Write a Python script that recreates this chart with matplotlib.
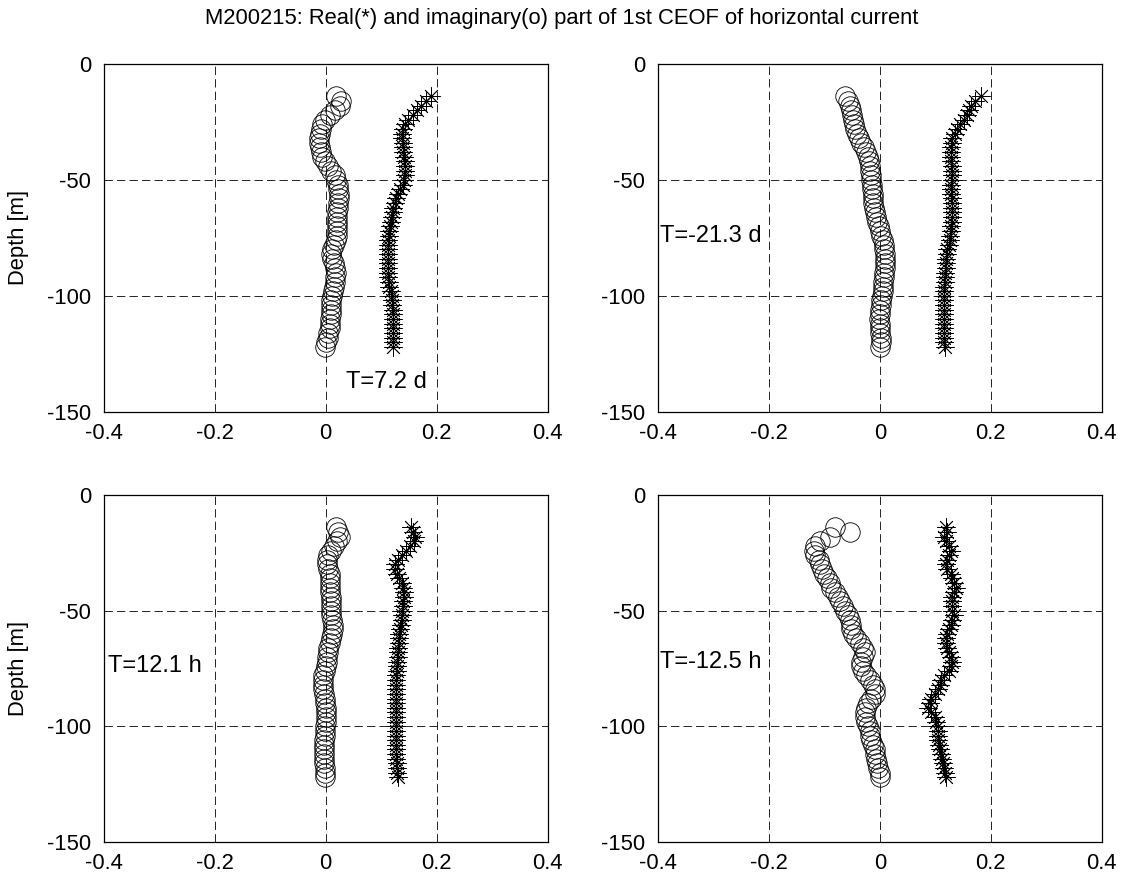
import numpy as np
import matplotlib
matplotlib.use("Agg")
import matplotlib.pyplot as plt

# bin depths of the ADCP (m), every 2 m from -14 to -122
depth = np.arange(-14, -123, -2)

# panel 1, T=7.2 d
real_1 = [0.189, 0.180, 0.171, 0.164, 0.157, 0.149, 0.143, 0.139, 0.137, 0.137,
          0.139, 0.140, 0.140, 0.142, 0.143, 0.143, 0.143, 0.143, 0.142, 0.139,
          0.134, 0.131, 0.127, 0.125, 0.122, 0.121, 0.119, 0.118, 0.116, 0.115,
          0.115, 0.113, 0.113, 0.112, 0.112, 0.112, 0.112, 0.112, 0.112, 0.113,
          0.114, 0.115, 0.118, 0.119, 0.119, 0.120, 0.121, 0.121, 0.121, 0.121,
          0.121, 0.121, 0.121, 0.121, 0.122]
imag_1 = [0.019, 0.028, 0.025, 0.016, 0.007, -0.002, -0.006, -0.009, -0.011, -0.012,
          -0.012, -0.011, -0.009, -0.006, -0.002, 0.004, 0.010, 0.016, 0.019, 0.022,
          0.023, 0.024, 0.024, 0.023, 0.022, 0.021, 0.021, 0.020, 0.020, 0.021,
          0.020, 0.018, 0.015, 0.012, 0.010, 0.011, 0.015, 0.017, 0.018, 0.017,
          0.016, 0.015, 0.014, 0.011, 0.010, 0.010, 0.010, 0.009, 0.008, 0.007,
          0.007, 0.005, 0.004, 0.001, -0.002]

# panel 2, T=-21.3 d
real_2 = [0.182, 0.171, 0.164, 0.160, 0.157, 0.151, 0.145, 0.140, 0.136, 0.131,
          0.130, 0.128, 0.128, 0.128, 0.129, 0.130, 0.130, 0.130, 0.130, 0.129,
          0.129, 0.129, 0.130, 0.130, 0.130, 0.130, 0.130, 0.130, 0.129, 0.128,
          0.127, 0.126, 0.124, 0.122, 0.121, 0.120, 0.119, 0.119, 0.118, 0.118,
          0.117, 0.116, 0.116, 0.116, 0.116, 0.116, 0.116, 0.116, 0.116, 0.116,
          0.116, 0.116, 0.116, 0.116, 0.117]
imag_2 = [-0.063, -0.057, -0.053, -0.051, -0.050, -0.048, -0.046, -0.044, -0.041, -0.037,
          -0.033, -0.029, -0.025, -0.022, -0.020, -0.018, -0.017, -0.016, -0.015, -0.014,
          -0.014, -0.013, -0.013, -0.012, -0.011, -0.009, -0.007, -0.005, -0.002, 0.001,
          0.003, 0.005, 0.007, 0.008, 0.009, 0.010, 0.010, 0.009, 0.008, 0.007,
          0.006, 0.005, 0.005, 0.004, 0.003, 0.002, 0.001, 0.000, -0.001, 0.000,
          0.001, 0.001, 0.002, 0.002, 0.001]

# panel 3, T=12.1 h
real_3 = [0.154, 0.157, 0.161, 0.160, 0.152, 0.145, 0.137, 0.130, 0.125, 0.125,
          0.128, 0.133, 0.137, 0.140, 0.142, 0.142, 0.140, 0.139, 0.138, 0.137,
          0.137, 0.136, 0.134, 0.133, 0.133, 0.132, 0.131, 0.131, 0.130, 0.129,
          0.128, 0.128, 0.127, 0.127, 0.127, 0.127, 0.127, 0.127, 0.127, 0.127,
          0.127, 0.127, 0.127, 0.127, 0.127, 0.127, 0.127, 0.127, 0.127, 0.127,
          0.127, 0.128, 0.128, 0.129, 0.130]
imag_3 = [0.018, 0.022, 0.025, 0.021, 0.015, 0.009, 0.005, 0.003, 0.002, 0.004,
          0.007, 0.008, 0.008, 0.008, 0.008, 0.009, 0.009, 0.009, 0.009, 0.010,
          0.012, 0.013, 0.013, 0.011, 0.009, 0.007, 0.005, 0.004, 0.003, 0.002,
          0.000, -0.002, -0.004, -0.005, -0.005, -0.004, -0.003, -0.002, -0.001, 0.001,
          0.001, 0.001, 0.001, -0.001, -0.002, -0.002, -0.003, -0.003, -0.003, -0.003,
          -0.003, -0.003, -0.002, -0.002, -0.001]

# panel 4, T=-12.5 h
real_4 = [0.119, 0.122, 0.116, 0.119, 0.125, 0.128, 0.125, 0.122, 0.119, 0.122,
          0.128, 0.131, 0.134, 0.137, 0.134, 0.131, 0.131, 0.131, 0.131, 0.134,
          0.131, 0.128, 0.125, 0.122, 0.119, 0.119, 0.122, 0.125, 0.128, 0.131,
          0.128, 0.125, 0.116, 0.111, 0.108, 0.105, 0.099, 0.093, 0.090, 0.087,
          0.093, 0.099, 0.102, 0.104, 0.104, 0.105, 0.105, 0.106, 0.108, 0.110,
          0.112, 0.114, 0.116, 0.117, 0.119]
imag_4 = [-0.081, -0.054, -0.090, -0.108, -0.116, -0.119, -0.116, -0.110, -0.107, -0.104,
          -0.100, -0.095, -0.090, -0.087, -0.081, -0.075, -0.072, -0.066, -0.063, -0.057,
          -0.054, -0.051, -0.051, -0.048, -0.042, -0.036, -0.030, -0.027, -0.030, -0.033,
          -0.033, -0.030, -0.024, -0.018, -0.012, -0.009, -0.009, -0.015, -0.021, -0.024,
          -0.027, -0.027, -0.024, -0.021, -0.018, -0.018, -0.015, -0.012, -0.009, -0.008,
          -0.006, -0.005, -0.003, 0.000, 0.000]

periods = ["T=7.2 d", "T=-21.3 d", "T=12.1 h", "T=-12.5 h"]
label_pos = [(0.037, -137), (-0.396, -74), (-0.392, -74), (-0.396, -72)]

title = "M200215: Real(*) and imaginary(o) part of 1st CEOF of horizontal current"
xticks = [-0.4, -0.2, 0, 0.2, 0.4]
xticklabels = ["-0.4", "-0.2", "0", "0.2", "0.4"]
yticks = [-150, -100, -50, 0]
yticklabels = ["-150", "-100", "-50", "0"]

plt.rcParams['font.family'] = ['Liberation Sans', 'DejaVu Sans']
plt.rcParams['font.size'] = 15.8
plt.rcParams['axes.unicode_minus'] = False
plt.rcParams['lines.scale_dashes'] = False

fig = plt.figure(figsize=(11.24, 8.84), dpi=100)

# axes boxes in figure fractions, MATLAB subplot(2,2,k) layout
boxes = [(0.0921, 0.5343, 0.3952, 0.3933),
         (0.5851, 0.5343, 0.3952, 0.3933),
         (0.0921, 0.0475, 0.3952, 0.3925),
         (0.5851, 0.0475, 0.3952, 0.3925)]

reals = [real_1, real_2, real_3, real_4]
imags = [imag_1, imag_2, imag_3, imag_4]

for k in range(4):
    ax = fig.add_axes(boxes[k])
    ax.plot(reals[k], depth, linestyle='none', marker=(8, 2, 0), markersize=13,
            markeredgewidth=0.6, color='black')
    ax.plot(imags[k], depth, linestyle='none', marker='o', markersize=14,
            markerfacecolor='none', markeredgewidth=0.6, markeredgecolor='black')
    ax.set_xlim(-0.4, 0.4)
    ax.set_ylim(-150, 0)
    ax.set_xticks(xticks)
    ax.set_xticklabels(xticklabels)
    ax.set_yticks(yticks)
    ax.set_yticklabels(yticklabels)
    ax.grid(True, color='black', linestyle=(0, (6, 3)), linewidth=0.6)
    ax.tick_params(axis='x', direction='in', length=0, pad=8)
    ax.tick_params(axis='y', direction='in', length=0, pad=9)
    for s in ax.spines.values():
        s.set_linewidth(0.9)
    ax.text(label_pos[k][0], label_pos[k][1], periods[k], ha='left', va='center',
            fontsize=17)
    if k % 2 == 0:
        ax.set_ylabel("Depth [m]")
        ax.yaxis.set_label_coords(-0.168, 0.5)

fig.text(0.5, 0.979, title, ha='center', va='center')

fig.savefig("out.png", dpi=100)
